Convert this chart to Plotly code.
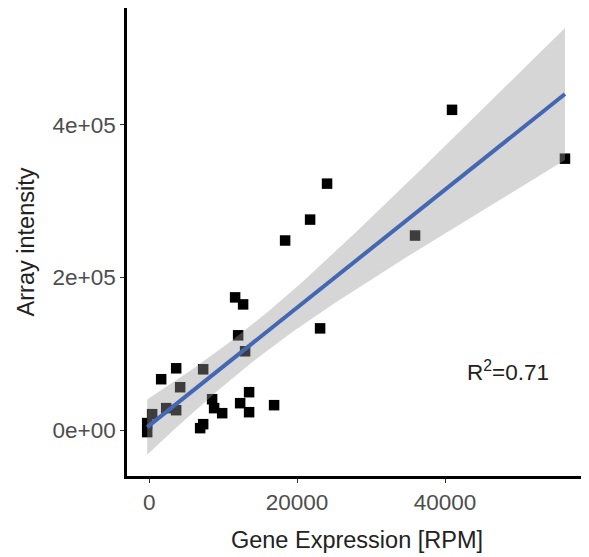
import numpy as np
import plotly.graph_objects as go

# Data (Gene Expression [RPM] vs Array intensity)
gene_expression = [40950, 56220, 24050, 21760, 18380, 35950, 11620, 12700, 12030, 23110,
                   12970, 3650, 7300, 1620, 4190, 13510, 8510, 8780, 9870, 12300,
                   13510, 16890, 2300, 3650, 400, -270, -270, 7300, 6890]
array_intensity = [419600, 355600, 322900, 275800, 248400, 254900, 173900, 164700, 124200, 133300,
                   103300, 81000, 79700, 66700, 56200, 49700, 40500, 28800, 22200, 35300,
                   23500, 32700, 28800, 26100, 20900, 9200, -2600, 7800, 2600]

x_ticks = [0, 20000, 40000]
x_tick_labels = ["0", "20000", "40000"]
y_ticks = [0, 200000, 400000]
y_tick_labels = ["0e+00", "2e+05", "4e+05"]
r2_label = "R<sup>2</sup>=0.71"

x = np.array(gene_expression, dtype=float)
y = np.array(array_intensity, dtype=float)
n = len(x)

# linear fit + 95% confidence band (as ggplot geom_smooth(method="lm"))
slope, intercept = np.polyfit(x, y, 1)
resid = y - (slope * x + intercept)
s = np.sqrt(np.sum(resid ** 2) / (n - 2))
xm = x.mean()
sxx = np.sum((x - xm) ** 2)
T_CRIT = 2.052  # t(0.975, df=27)
xg = np.linspace(x.min(), x.max(), 80)
yg = slope * xg + intercept
se = s * np.sqrt(1.0 / n + (xg - xm) ** 2 / sxx)
upper = yg + T_CRIT * se
lower = yg - T_CRIT * se

FONT = "Liberation Sans, Arial"

fig = go.Figure()
fig.add_trace(go.Scatter(
    x=x, y=y, mode="markers",
    marker=dict(symbol="square", size=10.5, color="black", line=dict(width=0)),
    showlegend=False, hoverinfo="skip"))
fig.add_trace(go.Scatter(
    x=np.concatenate([xg, xg[::-1]]), y=np.concatenate([upper, lower[::-1]]),
    fill="toself", fillcolor="rgba(153,153,153,0.4)", line=dict(width=0),
    mode="lines", showlegend=False, hoverinfo="skip"))
fig.add_trace(go.Scatter(
    x=xg, y=yg, mode="lines", line=dict(color="#4467B3", width=4),
    showlegend=False, hoverinfo="skip"))

fig.add_annotation(x=48500, y=78000, text=r2_label, showarrow=False,
                   font=dict(family=FONT, size=22.5, color="#222222"))

axis_common = dict(showgrid=False, zeroline=False, showline=True, linecolor="black",
                   linewidth=2.5, ticks="outside", ticklen=4, tickwidth=1, tickcolor="#333333",
                   automargin=False,
                   tickfont=dict(family=FONT, size=22.5, color="#4D4D4D"))

# the page body adds an 8px offset, so the figure is sized to fit the window
fig.update_layout(
    width=581, height=549,
    margin=dict(l=119, r=2, t=0, b=81),
    paper_bgcolor="white", plot_bgcolor="white",
    xaxis=dict(range=[-3000, 59200], tickvals=x_ticks, ticktext=x_tick_labels,
               title=dict(text="Gene Expression [RPM]", standoff=18,
                          font=dict(family=FONT, size=23.5, color="#222222")),
               **axis_common),
    yaxis=dict(range=[-60100, 553000], tickvals=y_ticks, ticktext=y_tick_labels,
               title=dict(text="Array intensity", standoff=12,
                          font=dict(family=FONT, size=23.5, color="#222222")),
               **axis_common),
)

fig.write_html("out.html")
